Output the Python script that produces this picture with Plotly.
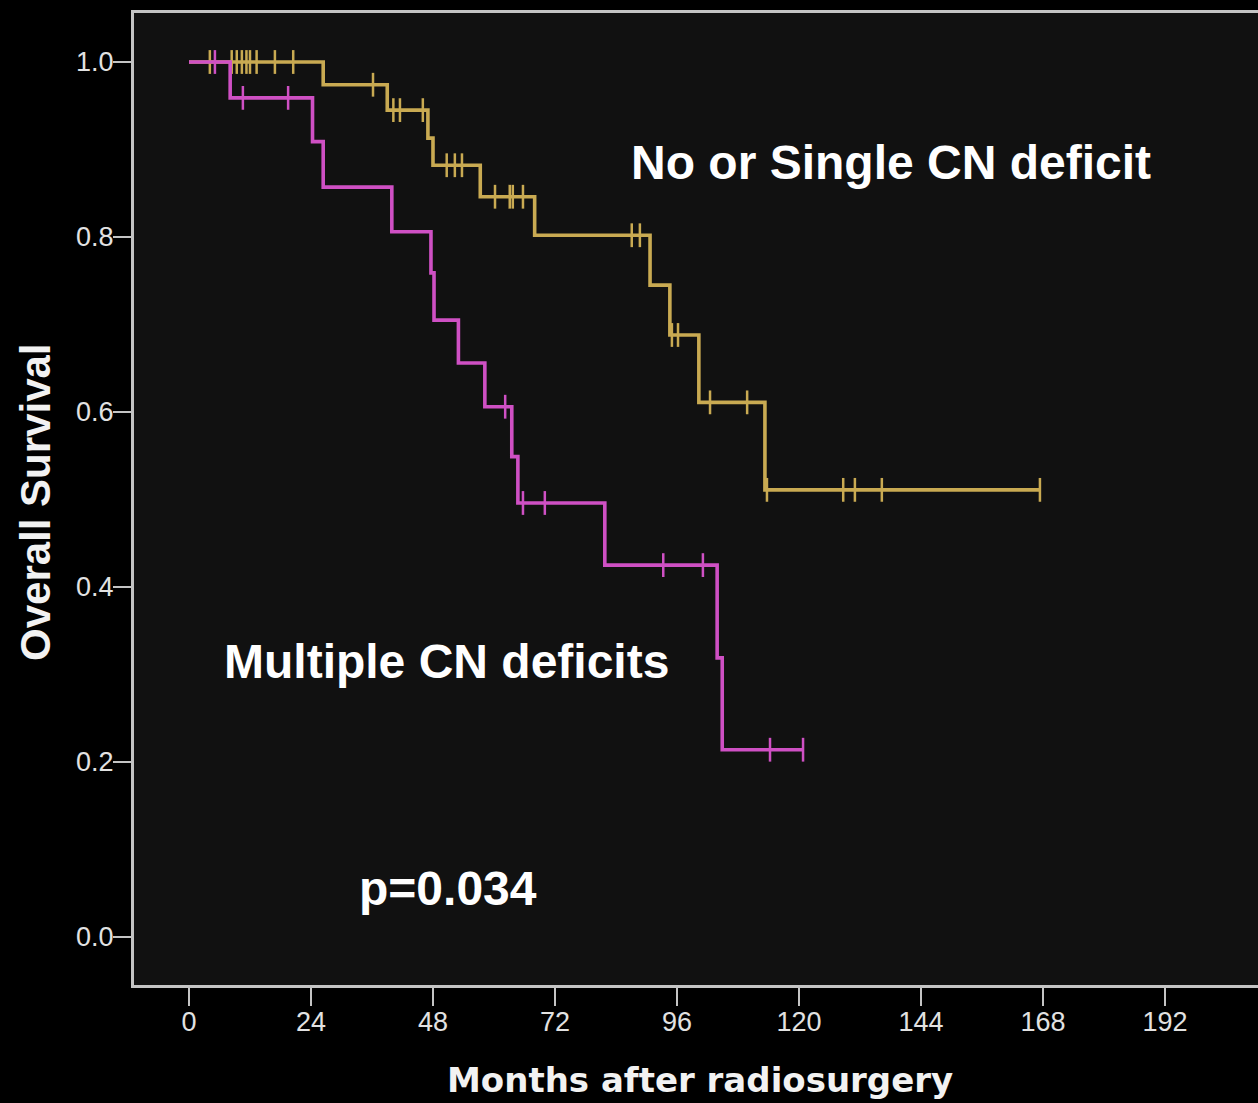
import plotly.graph_objects as go

# ---- data ----
# No or Single CN deficit (gold)
gold_times = [0, 26.4, 39.0, 47.0, 48.0, 57.3, 68.0, 90.7, 94.6, 100.3, 113.3]
gold_surv = [1.0, 0.974, 0.945, 0.913, 0.882, 0.846, 0.802, 0.745, 0.688, 0.611, 0.511]
gold_end = 167.4
gold_censor = [4.1, 8.4, 9.4, 10.4, 11.3, 12.0, 13.3, 16.9, 20.5, 36.2, 40.2, 41.5, 46.0,
               50.7, 52.3, 53.7, 60.2, 63.1, 63.7, 65.7, 87.1, 88.7, 95.0, 96.2,
               102.5, 109.8, 113.7, 128.7, 131.0, 136.3, 167.4]

# Multiple CN deficits (magenta)
mag_times = [0, 8.1, 24.3, 26.4, 39.9, 47.6, 48.2, 53.0, 58.2, 63.5, 64.7, 81.8, 103.9, 104.9]
mag_surv = [1.0, 0.959, 0.909, 0.857, 0.806, 0.759, 0.705, 0.656, 0.606, 0.549, 0.496, 0.425, 0.319, 0.214]
mag_end = 120.8
mag_censor = [5.1, 10.6, 19.5, 62.2, 65.7, 70.0, 93.3, 101.1, 114.3, 120.8]

x_ticks = [0, 24, 48, 72, 96, 120, 144, 168, 192]
y_ticks = [0.0, 0.2, 0.4, 0.6, 0.8, 1.0]

GOLD = "#c9aa52"
MAG = "#cf50c4"


def step_at(times, surv, t):
    idx = 0
    for i, tt in enumerate(times):
        if tt <= t:
            idx = i
    return surv[idx]


fig = go.Figure()

for times, surv, end, cens, col, name in [
    (gold_times, gold_surv, gold_end, gold_censor, GOLD, "No or Single CN deficit"),
    (mag_times, mag_surv, mag_end, mag_censor, MAG, "Multiple CN deficits"),
]:
    xs = list(times) + [end]
    ys = list(surv) + [surv[-1]]
    fig.add_trace(go.Scatter(x=xs, y=ys, mode="lines", line=dict(color=col, width=3.6, shape="hv"),
                             showlegend=False, name=name))
    fig.add_trace(go.Scatter(x=cens, y=[step_at(times, surv, c) for c in cens], mode="markers",
                             marker=dict(symbol="line-ns-open", size=17, color=col,
                                         line=dict(color=col, width=2.5)),
                             showlegend=False, name=name + " censored"))

ann_font = dict(family="Liberation Sans, Arial, sans-serif", size=48, color="white")
fig.add_annotation(x=86.6, y=0.885, xref="x", yref="y", text="<b>No or Single CN deficit</b>",
                   showarrow=False, xanchor="left", yanchor="middle", font=ann_font)
fig.add_annotation(x=6.4, y=0.315, xref="x", yref="y", text="<b>Multiple CN deficits</b>",
                   showarrow=False, xanchor="left", yanchor="middle", font=ann_font)
fig.add_annotation(x=33.1, y=0.055, xref="x", yref="y", text="<b>p=0.034</b>",
                   showarrow=False, xanchor="left", yanchor="middle", font=ann_font)

# axis titles
fig.add_annotation(x=(700 - 134) / 1124, y=-95 / 972, xref="paper", yref="paper",
                   text="<b>Months after radiosurgery</b>", showarrow=False,
                   xanchor="center", yanchor="middle",
                   font=dict(family="DejaVu Sans, sans-serif", size=34, color="#f2f2f2"))
fig.add_annotation(x=(35 - 134) / 1124, y=(985 - 502) / 972, xref="paper", yref="paper",
                   text="<b>Overall Survival</b>", showarrow=False, textangle=-90,
                   xanchor="center", yanchor="middle",
                   font=dict(family="Liberation Sans, Arial, sans-serif", size=42, color="#f2f2f2"))

axis_common = dict(showgrid=False, zeroline=False, showline=True, linecolor="#c4c4c4", linewidth=3,
                   ticks="outside", ticklen=18, tickwidth=2, tickcolor="#c4c4c4",
                   tickfont=dict(family="Liberation Sans, Arial, sans-serif", size=27, color="#e2e2e2"),
                   automargin=False)

fig.update_xaxes(range=[-10.82, 210.3], tickvals=x_ticks, ticktext=[str(v) for v in x_ticks],
                 mirror=True, ticklabelstandoff=-7, **axis_common)
fig.update_yaxes(range=[-0.0549, 1.056], tickvals=y_ticks, ticktext=[f"{v:.1f}" for v in y_ticks],
                 mirror=False, ticklabelstandoff=-6, **axis_common)

fig.update_layout(width=1258, height=1103, margin=dict(l=134, r=0, t=13, b=118),
                  paper_bgcolor="#000000", plot_bgcolor="#111111", showlegend=False)

fig.write_html("out.html")
